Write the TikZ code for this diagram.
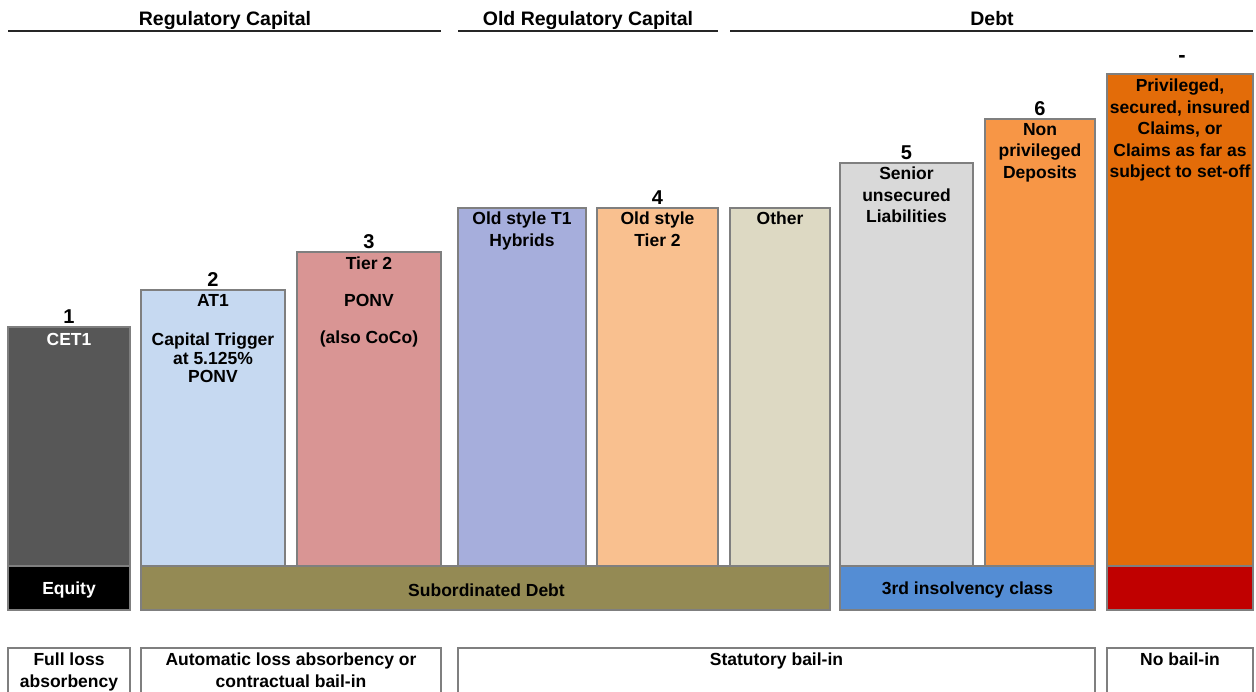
\documentclass[tikz,border=0pt]{standalone}
\usepackage{fontspec}
\setmainfont{Liberation Sans}
\definecolor{barline}{HTML}{7F7F7F}
\definecolor{cetone}{HTML}{575757}
\definecolor{atone}{HTML}{C6D9F1}
\definecolor{tiertwo}{HTML}{D99594}
\definecolor{oldtone}{HTML}{A6AEDC}
\definecolor{oldttwo}{HTML}{F9C08F}
\definecolor{other}{HTML}{DDD9C3}
\definecolor{senior}{HTML}{D9D9D9}
\definecolor{deposit}{HTML}{F79646}
\definecolor{privil}{HTML}{E36C09}
\definecolor{subdebt}{HTML}{948A54}
\definecolor{third}{HTML}{548DD4}
\definecolor{nored}{HTML}{C00000}
\begin{document}
\begin{tikzpicture}[x=1pt,y=-1pt,
  bar/.style={draw=barline, line width=1.2pt, anchor=north west, inner sep=0pt, outer sep=0pt},
  txt/.style={font=\bfseries\fontsize{17.5}{21.5}\selectfont, align=center, anchor=north, inner sep=0pt},
  tight/.style={font=\bfseries\fontsize{17.5}{18.5}\selectfont, align=center, anchor=north, inner sep=0pt},
  num/.style={font=\bfseries\fontsize{20}{20}\selectfont, anchor=base, inner sep=0pt},
  hdr/.style={font=\bfseries\fontsize{19.5}{20}\selectfont, anchor=base, inner sep=0pt},
  hline/.style={line width=2.2pt, draw=black!85}]
\useasboundingbox (0,0) rectangle (1256,691);

% headers
\node[hdr] (h1) at (225,25) {Regulatory Capital};
\node[hdr] (h2) at (588,25) {Old Regulatory Capital};
\node[hdr] (h3) at (992,25) {Debt};
\coordinate (h1a) at (8,31);   \coordinate (h1b) at (441,31);
\coordinate (h2a) at (458,31); \coordinate (h2b) at (718,31);
\coordinate (h3a) at (730,31); \coordinate (h3b) at (1253,31);
\draw[hline] (h1a) -- (h1b);
\draw[hline] (h2a) -- (h2b);
\draw[hline] (h3a) -- (h3b);

% bars
\node[bar, fill=cetone,  minimum width=122, minimum height=239] (b1) at (8,327) {};
\node[bar, fill=atone,   minimum width=144, minimum height=276] (b2) at (141,290) {};
\node[bar, fill=tiertwo, minimum width=144, minimum height=314] (b3) at (297,252) {};
\node[bar, fill=oldtone, minimum width=128, minimum height=358] (b4a) at (458,208) {};
\node[bar, fill=oldttwo, minimum width=121, minimum height=358] (b4b) at (597,208) {};
\node[bar, fill=other,   minimum width=100, minimum height=358] (b4c) at (730,208) {};
\node[bar, fill=senior,  minimum width=133, minimum height=403] (b5) at (840,163) {};
\node[bar, fill=deposit, minimum width=110, minimum height=447] (b6) at (985,119) {};
\node[bar, fill=privil,  minimum width=146, minimum height=492] (b7) at (1107,74) {};

% numbers
\node[num] (n1) at ([yshift=4]b1.north) {1};
\node[num] (n2) at ([yshift=4]b2.north) {2};
\node[num] (n3) at ([yshift=4]b3.north) {3};
\node[num] (n4) at ([yshift=4]b4b.north) {4};
\node[num] (n5) at ([yshift=4]b5.north) {5};
\node[num] (n6) at ([yshift=4]b6.north) {6};
\node[num, anchor=center, font=\bfseries\fontsize{22}{22}\selectfont] (n7) at (1182,59) {-};

% bar texts
\node[txt, text=white] (t1) at ([yshift=-6]b1.north) {CET1};
\node[txt] (t2) at ([yshift=-4]b2.north) {AT1};
\node[tight] (t2b) at ([yshift=-43]b2.north) {Capital Trigger\\at 5.125\%\\PONV};
\node[tight] (t3) at ([yshift=-5]b3.north) {Tier 2\\[18.5pt]PONV\\[18.5pt](also CoCo)};
\node[txt] (t4a) at ([yshift=-4]b4a.north) {Old style T1\\Hybrids};
\node[txt] (t4b) at ([yshift=-4]b4b.north) {Old style\\Tier 2};
\node[txt] (t4c) at ([yshift=-4]b4c.north) {Other};
\node[txt] (t5) at ([yshift=-4]b5.north) {Senior\\unsecured\\Liabilities};
\node[txt] (t6) at ([yshift=-4]b6.north) {Non\\privileged\\Deposits};
\node[txt] (t7) at ([yshift=-5]b7.north) {Privileged,\\secured, insured\\Claims, or\\Claims as far as\\subject to set-off};

% bottom bands
\node[bar, fill=black,   minimum width=122, minimum height=44] (e1) at (8,566) {};
\node[bar, fill=subdebt, minimum width=689, minimum height=44] (e2) at (141,566) {};
\node[bar, fill=third,   minimum width=255, minimum height=44] (e3) at (840,566) {};
\node[bar, fill=nored,   minimum width=146, minimum height=44] (e4) at (1107,566) {};
\node[txt, anchor=center, text=white] at ([yshift=-2]e1.center) {Equity};
\node[txt, anchor=center] at ([xshift=1,yshift=-2]e2.center) {Subordinated Debt};
\node[txt, anchor=center] at ([yshift=-2]e3.center) {3rd insolvency class};

% bottom row
\node[bar, fill=white, minimum width=122, minimum height=60] (f1) at (8,648) {};
\node[bar, fill=white, minimum width=300, minimum height=60] (f2) at (141,648) {};
\node[bar, fill=white, minimum width=637, minimum height=60] (f3) at (458,648) {};
\node[bar, fill=white, minimum width=146, minimum height=60] (f4) at (1107,648) {};
\node[txt] at ([yshift=-5]f1.north) {Full loss\\absorbency};
\node[txt] at ([yshift=-5]f2.north) {Automatic loss absorbency or\\contractual bail-in};
\node[txt] at ([yshift=-5]f3.north) {Statutory bail-in};
\node[txt] at ([yshift=-5]f4.north) {No bail-in};
\end{tikzpicture}
\end{document}
